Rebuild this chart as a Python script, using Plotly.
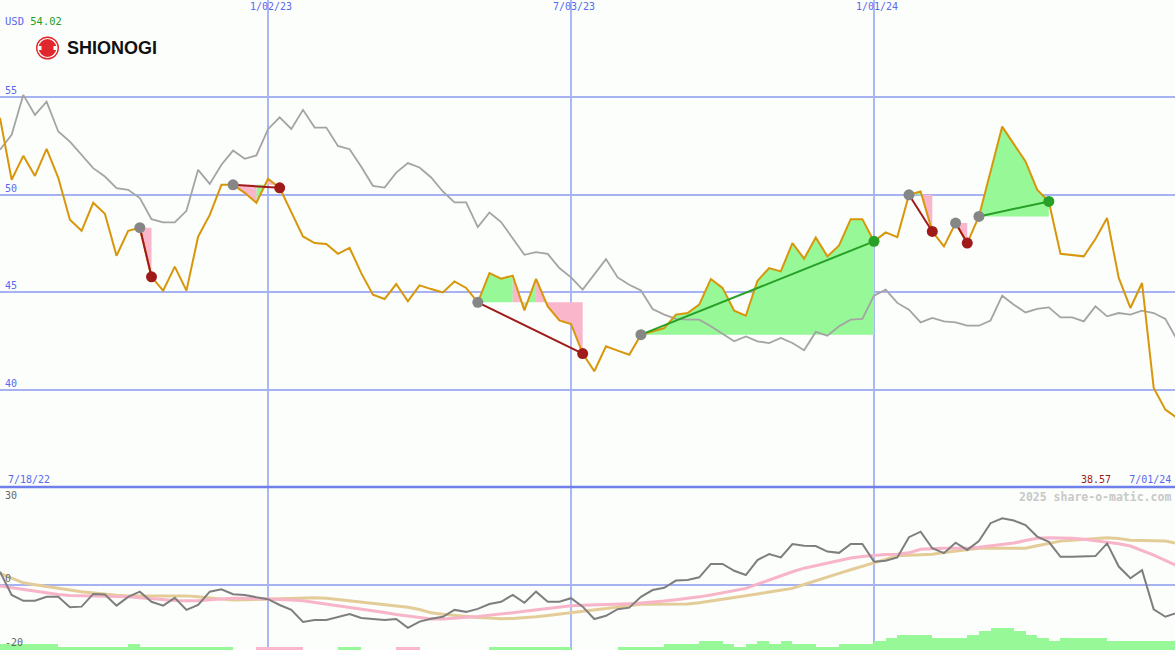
import datetime as dt
import plotly.graph_objects as go

# ---------------- data ----------------
start_date = dt.date(2022, 7, 25)
n_weeks = 102
dates = [start_date + dt.timedelta(days=7 * i) for i in range(n_weeks)]

price = [
    53.95, 50.77, 52.00, 50.97, 52.36, 50.87, 48.72, 48.15, 49.59, 49.03,
    46.87, 48.15, 48.31, 45.79, 45.08, 46.31, 45.08, 47.85, 48.97, 50.51,
    50.51, 50.10, 49.59, 50.82, 50.36, 49.13, 47.86, 47.52, 47.47, 46.97,
    47.27, 45.98, 44.87, 44.65, 45.42, 44.53, 45.35, 45.16, 44.99, 45.55,
    45.22, 44.48, 45.98, 45.69, 45.85, 44.07, 45.68, 44.27, 43.55, 43.37,
    41.85, 40.94, 42.22, 42.00, 41.79, 42.82, 43.00, 43.16, 43.85, 43.93,
    44.36, 45.68, 45.22, 44.05, 43.79, 45.59, 46.24, 46.07, 47.52, 46.72,
    47.81, 46.84, 47.40, 48.75, 48.75, 47.61, 48.07, 47.83, 50.00, 50.17,
    48.12, 47.35, 48.55, 47.52, 48.89, 51.19, 53.50, 52.60, 51.71, 50.26,
    49.66, 46.97, 46.92, 46.84, 47.73, 48.81, 45.73, 44.19, 45.47, 40.09,
    38.97, 38.55,
]

benchmark = [
    52.31, 53.08, 55.13, 54.10, 54.78, 53.25, 52.73, 52.05, 51.37, 50.94,
    50.34, 50.26, 49.83, 48.75, 48.58, 48.58, 49.18, 51.28, 50.56, 51.54,
    52.27, 51.85, 52.02, 53.37, 53.98, 53.38, 54.36, 53.45, 53.45, 52.51,
    52.34, 51.44, 50.46, 50.37, 51.14, 51.63, 51.40, 50.89, 50.17, 49.61,
    49.61, 48.34, 49.09, 48.60, 47.78, 46.92, 47.06, 46.97, 46.24, 45.76,
    45.13, 45.90, 46.70, 45.76, 45.38, 45.09, 44.14, 43.85, 43.63, 43.59,
    43.59, 43.25, 42.87, 42.48, 42.73, 42.48, 42.39, 42.65, 42.39, 42.02,
    42.96, 42.77, 43.25, 43.59, 43.63, 44.82, 45.13, 44.45, 44.10, 43.45,
    43.68, 43.50, 43.45, 43.28, 43.28, 43.55, 44.82, 44.36, 43.96, 44.14,
    44.22, 43.71, 43.71, 43.50, 44.27, 43.76, 43.93, 43.85, 44.05, 43.93,
    43.63, 42.56,
]

oscillator = [
    4.0, -3.1, -4.9, -4.9, -3.7, -3.7, -6.9, -6.7, -2.8, -3.0,
    -6.4, -3.7, -2.1, -5.2, -6.4, -4.0, -7.7, -6.2, -2.1, -1.4,
    -2.9, -3.1, -3.8, -4.4, -6.2, -7.7, -11.4, -10.8, -10.8, -9.8,
    -9.0, -10.2, -10.5, -10.8, -10.5, -13.2, -11.3, -10.4, -9.8, -7.7,
    -8.3, -7.4, -5.9, -5.2, -3.1, -5.5, -2.1, -5.2, -5.2, -4.1,
    -6.7, -10.5, -9.5, -7.5, -7.0, -3.7, -1.6, -0.9, 1.3, 1.5,
    2.3, 6.4, 6.4, 4.3, 3.0, 7.6, 9.4, 8.4, 12.5, 12.0,
    11.9, 10.2, 9.8, 12.5, 12.5, 7.1, 7.4, 8.4, 14.6, 16.3,
    11.2, 9.7, 12.9, 10.7, 13.4, 18.9, 20.4, 19.7, 18.3, 14.8,
    13.2, 8.6, 8.6, 8.8, 8.8, 12.7, 5.6, 2.0, 4.5, -7.5,
    -9.8, -8.6,
]

fast_avg = [
    -0.4, -0.9, -1.5, -2.1, -2.6, -3.0, -3.3, -3.4, -3.4, -3.4,
    -3.5, -3.7, -4.0, -4.3, -4.6, -4.8, -4.9, -4.9, -4.6, -4.3,
    -4.1, -4.1, -4.2, -4.3, -4.5, -4.7, -4.9, -5.4, -6.0, -6.5,
    -7.0, -7.4, -7.8, -8.5, -9.1, -9.6, -10.1, -10.5, -10.5, -10.3,
    -10.0, -9.7, -9.3, -9.0, -8.6, -8.1, -7.7, -7.2, -6.8, -6.4,
    -6.3, -6.2, -6.2, -6.0, -5.8, -5.6, -5.4, -5.0, -4.6, -4.2,
    -3.7, -3.1, -2.5, -1.8, -1.1, 0.2, 1.5, 2.8, 4.0, 5.1,
    5.9, 6.8, 7.6, 8.2, 8.7, 9.1, 9.3, 9.4, 9.8, 10.9,
    11.1, 11.2, 11.2, 11.2, 11.5, 11.9, 12.2, 12.8, 13.6, 14.3,
    14.4, 14.4, 14.3, 14.0, 13.6, 13.2, 12.6, 11.9, 10.6, 9.1,
    7.5, 5.8,
]

slow_avg = [
    3.5, 2.0, 0.6, 0.0, -0.6, -1.1, -1.6, -2.1, -2.5, -2.9,
    -3.2, -3.4, -3.4, -3.4, -3.4, -3.4, -3.4, -3.7, -4.1, -4.5,
    -4.7, -4.6, -4.5, -4.4, -4.2, -4.1, -4.0, -4.0, -4.1, -4.5,
    -5.0, -5.5, -5.9, -6.2, -6.5, -6.9, -7.6, -8.6, -9.0, -9.4,
    -9.8, -10.0, -10.2, -10.4, -10.3, -10.1, -9.8, -9.4, -9.0, -8.7,
    -8.2, -7.8, -7.3, -6.8, -6.3, -6.0, -6.0, -5.9, -5.9, -5.9,
    -5.5, -5.0, -4.5, -4.0, -3.4, -2.8, -2.2, -1.6, -1.1, 0.1,
    1.3, 2.4, 3.5, 4.6, 5.6, 6.6, 7.8, 8.9, 9.1, 9.3,
    9.4, 9.9, 10.4, 10.8, 11.2, 11.2, 11.2, 11.2, 11.2, 12.0,
    12.7, 13.4, 13.7, 14.0, 14.3, 14.4, 14.2, 13.7, 13.6, 13.5,
    13.4, 12.7,
]

signal_bars = [
    2, 2, 2, 2, 2, 1, 1, 1, 1, 1,
    1, 2, 1, 1, 1, 1, 1, 1, 1, 1,
    0, 0, -1, -1, -1, -1, 0, 0, 0, 1,
    1, 0, 0, 0, -1, -1, 0, 0, 0, 0,
    0, 0, 1, 1, 1, 1, 1, 1, 1, 0,
    0, 0, 0, 1, 1, 1, 1, 2, 2, 2,
    3, 3, 2, 1, 2, 3, 2, 3, 2, 2,
    1, 1, 2, 2, 2, 3, 4, 5, 5, 5,
    4, 4, 4, 5, 6, 7, 7, 6, 5, 4,
    3, 4, 4, 4, 4, 3, 3, 3, 3, 3,
    3, 3,
]

# trades: (entry week index, exit week index)
trades = [(12, 13), (20, 24), (41, 50), (55, 75), (78, 80), (82, 83), (84, 90)]

grid_dates = ["2023-01-02", "2023-07-03", "2024-01-01"]
grid_labels = ["1/02/23", "7/03/23", "1/01/24"]
price_ticks = [40, 45, 50, 55]
first_label, last_label = "7/18/22", "7/01/24"
currency, top_value, last_value = "USD", "54.02", "38.57"

# ---------------- styling ----------------
BG = "#fbfefb"
GRID = "#a6b2f2"
VGRID = "#aab8f6"
SEP = "#7080ea"
LABEL_BLUE = "#5a68ee"
ORANGE = "#d8960a"
GREEN_FILL = "#96f896"
PINK_FILL = "#fab6ca"
LOSS = "#a01a1a"
GAIN = "#28a028"
MONO = "DejaVu Sans Mono"

split = 1 - 487 / 650  # panel boundary in paper coords

fig = go.Figure()

# trade fills (per-segment polygons against entry level)
gx, gy, px_, py_ = [], [], [], []
for s, e in trades:
    base = price[s]
    for k in range(s, e):
        xs = [dates[k], dates[k], dates[k + 1], dates[k + 1], dates[k], None]
        ys = [base, price[k], price[k + 1], base, base, None]
        if price[k + 1] >= base:
            gx += xs; gy += ys
        else:
            px_ += xs; py_ += ys
fig.add_trace(go.Scatter(x=gx, y=gy, mode="none", fill="toself", fillcolor=GREEN_FILL,
                         hoverinfo="skip", showlegend=False, xaxis="x", yaxis="y"))
fig.add_trace(go.Scatter(x=px_, y=py_, mode="none", fill="toself", fillcolor=PINK_FILL,
                         hoverinfo="skip", showlegend=False, xaxis="x", yaxis="y"))

# benchmark and price
fig.add_trace(go.Scatter(x=dates, y=benchmark, mode="lines",
                         line=dict(color="#a4a4a4", width=1.8),
                         showlegend=False, xaxis="x", yaxis="y"))
fig.add_trace(go.Scatter(x=dates, y=price, mode="lines",
                         line=dict(color=ORANGE, width=2),
                         showlegend=False, xaxis="x", yaxis="y"))

# trade connectors and markers
for s, e in trades:
    col = GAIN if price[e] >= price[s] else LOSS
    fig.add_trace(go.Scatter(x=[dates[s], dates[e]], y=[price[s], price[e]], mode="lines",
                             line=dict(color=col, width=2),
                             showlegend=False, xaxis="x", yaxis="y"))
for s, e in trades:
    col = GAIN if price[e] >= price[s] else LOSS
    fig.add_trace(go.Scatter(x=[dates[s]], y=[price[s]], mode="markers",
                             marker=dict(color="#868686", size=11),
                             showlegend=False, xaxis="x", yaxis="y"))
    fig.add_trace(go.Scatter(x=[dates[e]], y=[price[e]], mode="markers",
                             marker=dict(color=col, size=11),
                             showlegend=False, xaxis="x", yaxis="y"))

# lower panel
bar_colors = ["#96f896" if v >= 0 else "#fab6ca" for v in signal_bars]
fig.add_trace(go.Bar(x=dates, y=[abs(v) for v in signal_bars], marker=dict(color=bar_colors, line=dict(width=0)),
                     width=7 * 86400000, offset=0, showlegend=False, xaxis="x2", yaxis="y3"))
fig.add_trace(go.Scatter(x=dates, y=slow_avg, mode="lines", line=dict(color="#e4cc98", width=3),
                         showlegend=False, xaxis="x2", yaxis="y2"))
fig.add_trace(go.Scatter(x=dates, y=fast_avg, mode="lines", line=dict(color="#f8b4c8", width=3),
                         showlegend=False, xaxis="x2", yaxis="y2"))
fig.add_trace(go.Scatter(x=dates, y=oscillator, mode="lines", line=dict(color="#7e7e7e", width=2),
                         showlegend=False, xaxis="x2", yaxis="y2"))

x_range = ["2022-07-25", "2024-06-29 19:00"]
xcommon = dict(type="date", range=x_range, tickvals=grid_dates, showticklabels=False,
               showgrid=True, gridcolor=VGRID, gridwidth=1.5, zeroline=False,
               showline=False, ticks="")

fig.update_layout(
    width=1175, height=650,
    margin=dict(l=0, r=0, t=0, b=0, pad=0),
    paper_bgcolor=BG, plot_bgcolor=BG,
    showlegend=False, bargap=0,
    xaxis=dict(domain=[0, 1], anchor="y", **xcommon),
    xaxis2=dict(domain=[0, 1], anchor="y2", matches="x", **xcommon),
    yaxis=dict(domain=[split, 1], range=[35, 60], tickvals=price_ticks, showticklabels=False,
               showgrid=True, gridcolor=GRID, gridwidth=2, zeroline=False, ticks=""),
    yaxis2=dict(domain=[0, split], range=[-20, 30], tickvals=[0], showticklabels=False,
                showgrid=True, gridcolor=GRID, gridwidth=2, zeroline=False, ticks=""),
    yaxis3=dict(domain=[0, split], range=[0, 52.6], overlaying="y2", anchor="x2",
                visible=False, showgrid=False),
)

# separator between panels
fig.add_shape(type="line", xref="paper", yref="paper", x0=0, x1=1, y0=split, y1=split,
              line=dict(color=SEP, width=2.5), layer="above")

ann = []
# price labels
for t in price_ticks:
    ann.append(dict(x=0, y=t, xref="paper", yref="y", text=str(t), showarrow=False,
                    xanchor="left", yanchor="bottom", xshift=3, yshift=-1,
                    font=dict(family=MONO, size=10, color=LABEL_BLUE)))
# oscillator labels
ann.append(dict(x=0, y=30, xref="paper", yref="y2", text="30", showarrow=False,
                xanchor="left", yanchor="top", xshift=3, yshift=-1,
                font=dict(family=MONO, size=10, color="#666666")))
ann.append(dict(x=0, y=0, xref="paper", yref="y2", text="0", showarrow=False,
                xanchor="left", yanchor="bottom", xshift=3, yshift=-1,
                font=dict(family=MONO, size=10, color="#666666")))
ann.append(dict(x=0, y=-20, xref="paper", yref="y2", text="-20", showarrow=False,
                xanchor="left", yanchor="bottom", xshift=3, yshift=0,
                font=dict(family=MONO, size=10, color="#666666")))
# top date labels
for d, lab in zip(grid_dates, grid_labels):
    ann.append(dict(x=d, y=1, xref="x", yref="paper", text=lab, showarrow=False,
                    xanchor="center", yanchor="top", xshift=3, yshift=1,
                    font=dict(family=MONO, size=10, color=LABEL_BLUE)))
# bottom of price panel labels
ann.append(dict(x=0, y=split, xref="paper", yref="paper", text=first_label, showarrow=False,
                xanchor="left", yanchor="bottom", xshift=6, yshift=0,
                font=dict(family=MONO, size=10, color=LABEL_BLUE)))
ann.append(dict(x=1, y=split, xref="paper", yref="paper",
                text=f"<span style='color:{LOSS}'>{last_value}</span>   {last_label}",
                showarrow=False, xanchor="right", yanchor="bottom", xshift=-2, yshift=0,
                font=dict(family=MONO, size=10, color=LABEL_BLUE)))
ann.append(dict(x=1, y=split, xref="paper", yref="paper", text="<b>2025 share-o-matic.com</b>",
                showarrow=False, xanchor="right", yanchor="top", xshift=-2, yshift=-1,
                font=dict(family=MONO, size=11.5, color="#c8c8c8")))
# currency and headline value
ann.append(dict(x=0, y=1, xref="paper", yref="paper",
                text=f"{currency} <span style='color:#22a022'>{top_value}</span>",
                showarrow=False, xanchor="left", yanchor="top", xshift=3, yshift=-13,
                font=dict(family=MONO, size=10.5, color=LABEL_BLUE)))
# logo text
ann.append(dict(x=65 / 1175, y=1 - 48 / 650, xref="paper", yref="paper", text="<b>SHIONOGI</b>",
                showarrow=False, xanchor="left", yanchor="middle",
                font=dict(family="Liberation Sans", size=18, color="#111111")))
fig.update_layout(annotations=ann)

# logo mark
cx, cy, r = 47.5, 48.0, 11.5
def pbox(x0, y0, x1, y1):
    return dict(x0=x0 / 1175, x1=x1 / 1175, y0=1 - y1 / 650, y1=1 - y0 / 650)
fig.add_shape(type="circle", xref="paper", yref="paper", fillcolor="#e0282c",
              line=dict(width=0), layer="above", **pbox(cx - r, cy - r, cx + r, cy + r))
fig.add_shape(type="circle", xref="paper", yref="paper", fillcolor="rgba(0,0,0,0)",
              line=dict(width=1.2, color="white"), layer="above",
              **pbox(cx - r + 2.0, cy - r + 2.0, cx + r - 2.0, cy + r - 2.0))
fig.add_shape(type="rect", xref="paper", yref="paper", fillcolor="white",
              line=dict(width=0), layer="above", **pbox(cx - 9.5, cy - 2, cx - 6, cy + 2))
fig.add_shape(type="rect", xref="paper", yref="paper", fillcolor="white",
              line=dict(width=0), layer="above", **pbox(cx + 6, cy - 2, cx + 9.5, cy + 2))

fig.write_html("out.html", config={"displayModeBar": False},
               post_script="document.body.style.margin='0';document.body.style.overflow='hidden';")
